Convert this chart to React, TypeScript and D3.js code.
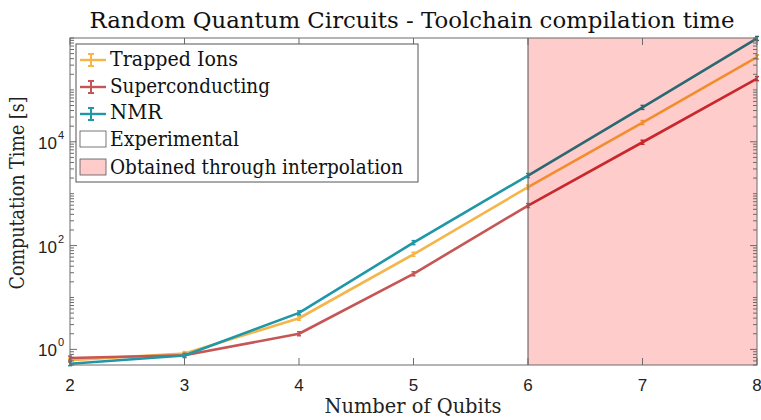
import React from "react";
import * as d3 from "d3";

const qubits = [2, 3, 4, 5, 6, 7, 8];
const trappedIons = [0.62, 0.83, 3.98, 68, 1340, 23500, 430000];
const superconducting = [0.68, 0.77, 2.0, 28.6, 590, 9800, 165000];
const nmr = [0.53, 0.76, 5.05, 114, 2240, 46000, 980000];

const xTicks = [2, 3, 4, 5, 6, 7, 8];
const yMajorExps = [0, 2, 4];
const experimentalEnd = 6;

const seriesList = [
  { name: "Trapped Ions", values: trappedIons, color: "#F5B548", dark: "#F28D2E" },
  { name: "Superconducting", values: superconducting, color: "#C65555", dark: "#C8272B" },
  { name: "NMR", values: nmr, color: "#1F97A6", dark: "#2A6972" },
];

const W = 761;
const H = 420;
const left = 70;
const right = 757;
const top = 38;
const bottom = 365;
const serif = "DejaVu Serif";
const sans = "Liberation Sans";
const axisColor = "#6b6b6b";

export default function App() {
  const x = d3.scaleLinear().domain([2, 8]).range([left, right]);
  const y = d3.scaleLog().domain([0.5, 1e6]).range([bottom, top]);

  const line = d3
    .line<[number, number]>()
    .x((d) => x(d[0]))
    .y((d) => y(d[1]));

  const minorTicks: number[] = [];
  for (let e = -1; e <= 6; e++) {
    for (let k = 1; k <= 9; k++) {
      const v = k * Math.pow(10, e);
      if (v < 0.5 || v > 1e6) continue;
      if (k === 1 && yMajorExps.includes(e)) continue;
      minorTicks.push(v);
    }
  }

  const legendItems = [
    { label: "Trapped Ions", kind: "line", color: seriesList[0].color, len: 128 },
    { label: "Superconducting", kind: "line", color: seriesList[1].color, len: 160 },
    { label: "NMR", kind: "line", color: seriesList[2].color, len: 52 },
    { label: "Experimental", kind: "patch", color: "#ffffff", len: 129 },
    { label: "Obtained through interpolation", kind: "patch", color: "#FFCCCC", len: 293 },
  ];
  const legendBaselines = [66, 92.5, 119, 146, 174];
  const legendMid = [60, 87, 114, 139, 167];

  return (
    <svg
      width={W}
      height={H}
      style={{ position: "absolute", left: 0, top: 0, background: "#fff" }}
    >
      <rect x={0} y={0} width={W} height={H} fill="#fff" />
      <rect
        x={x(experimentalEnd)}
        y={top}
        width={x(8) - x(experimentalEnd)}
        height={bottom - top}
        fill="#FFCCCC"
      />

      {seriesList.map((s) => {
        const pts: [number, number][] = qubits.map((q, i) => [q, s.values[i]]);
        const exp = pts.filter((p) => p[0] <= experimentalEnd);
        const interp = pts.filter((p) => p[0] >= experimentalEnd);
        return (
          <g key={s.name}>
            <path d={line(exp) || ""} fill="none" stroke={s.color} strokeWidth={2.6} strokeLinejoin="round" />
            <path d={line(interp) || ""} fill="none" stroke={s.dark} strokeWidth={2.6} strokeLinejoin="round" />
            {pts.map((p, i) => {
              const cx = x(p[0]);
              const cy = y(p[1]);
              const c = p[0] > experimentalEnd ? s.dark : s.color;
              return (
                <g key={i} stroke={c} strokeWidth={1.5}>
                  <line x1={cx} x2={cx} y1={cy - 2} y2={cy + 2} />
                  <line x1={cx - 2} x2={cx + 2} y1={cy - 2} y2={cy - 2} />
                  <line x1={cx - 2} x2={cx + 2} y1={cy + 2} y2={cy + 2} />
                </g>
              );
            })}
          </g>
        );
      })}

      <line x1={x(experimentalEnd)} x2={x(experimentalEnd)} y1={top} y2={bottom} stroke="#555" strokeWidth={1} />

      <rect x={left} y={top} width={right - left} height={bottom - top} fill="none" stroke={axisColor} strokeWidth={1} />

      {xTicks.map((t) => (
        <g key={t}>
          <line x1={x(t)} x2={x(t)} y1={bottom} y2={bottom - 7} stroke={axisColor} />
          <line x1={x(t)} x2={x(t)} y1={top} y2={top + 7} stroke={axisColor} />
          <text x={x(t)} y={391} textAnchor="middle" fontFamily={sans} fontSize={17} fill="#222">
            {t}
          </text>
        </g>
      ))}

      {yMajorExps.map((e) => {
        const v = Math.pow(10, e);
        return (
          <g key={e}>
            <line x1={left} x2={left + 7} y1={y(v)} y2={y(v)} stroke={axisColor} />
            <line x1={right} x2={right - 7} y1={y(v)} y2={y(v)} stroke={axisColor} />
            <text x={57} y={y(v) + 7} textAnchor="end" fontFamily={sans} fontSize={17} fill="#222">
              10
            </text>
            <text x={58} y={y(v) - 3} textAnchor="start" fontFamily={sans} fontSize={11} fill="#222">
              {e}
            </text>
          </g>
        );
      })}
      {minorTicks.map((v, i) => (
        <g key={i}>
          <line x1={left} x2={left + 4} y1={y(v)} y2={y(v)} stroke={axisColor} />
          <line x1={right} x2={right - 4} y1={y(v)} y2={y(v)} stroke={axisColor} />
        </g>
      ))}

      <text
        x={412}
        y={28}
        textAnchor="middle"
        fontFamily={serif}
        fontSize={22}
        fill="#111"
        textLength={645}
        lengthAdjust="spacingAndGlyphs"
      >
        Random Quantum Circuits - Toolchain compilation time
      </text>

      <text
        x={413}
        y={413}
        textAnchor="middle"
        fontFamily={serif}
        fontSize={21}
        fill="#222"
        textLength={177}
        lengthAdjust="spacingAndGlyphs"
      >
        Number of Qubits
      </text>
      <text
        transform={`translate(24, 193) rotate(-90)`}
        textAnchor="middle"
        fontFamily={serif}
        fontSize={21}
        fill="#222"
        textLength={193}
        lengthAdjust="spacingAndGlyphs"
      >
        Computation Time [s]
      </text>

      <rect x={76} y={44} width={342} height={138} fill="#fff" stroke="#555" strokeWidth={1} />
      {legendItems.map((it, i) => (
        <g key={it.label}>
          {it.kind === "line" ? (
            <g stroke={it.color} strokeWidth={2}>
              <line x1={80} x2={106} y1={legendMid[i]} y2={legendMid[i]} strokeWidth={2.4} />
              <line x1={91} x2={91} y1={legendMid[i] - 6} y2={legendMid[i] + 6} />
              <line x1={88} x2={94} y1={legendMid[i] - 6} y2={legendMid[i] - 6} />
              <line x1={88} x2={94} y1={legendMid[i] + 6} y2={legendMid[i] + 6} />
            </g>
          ) : (
            <rect x={80} y={legendMid[i] - 8} width={26} height={16} fill={it.color} stroke="#555" strokeWidth={0.8} />
          )}
          <text
            x={110}
            y={legendBaselines[i]}
            fontFamily={serif}
            fontSize={21}
            fill="#111"
            textLength={it.len}
            lengthAdjust="spacingAndGlyphs"
          >
            {it.label}
          </text>
        </g>
      ))}
    </svg>
  );
}
